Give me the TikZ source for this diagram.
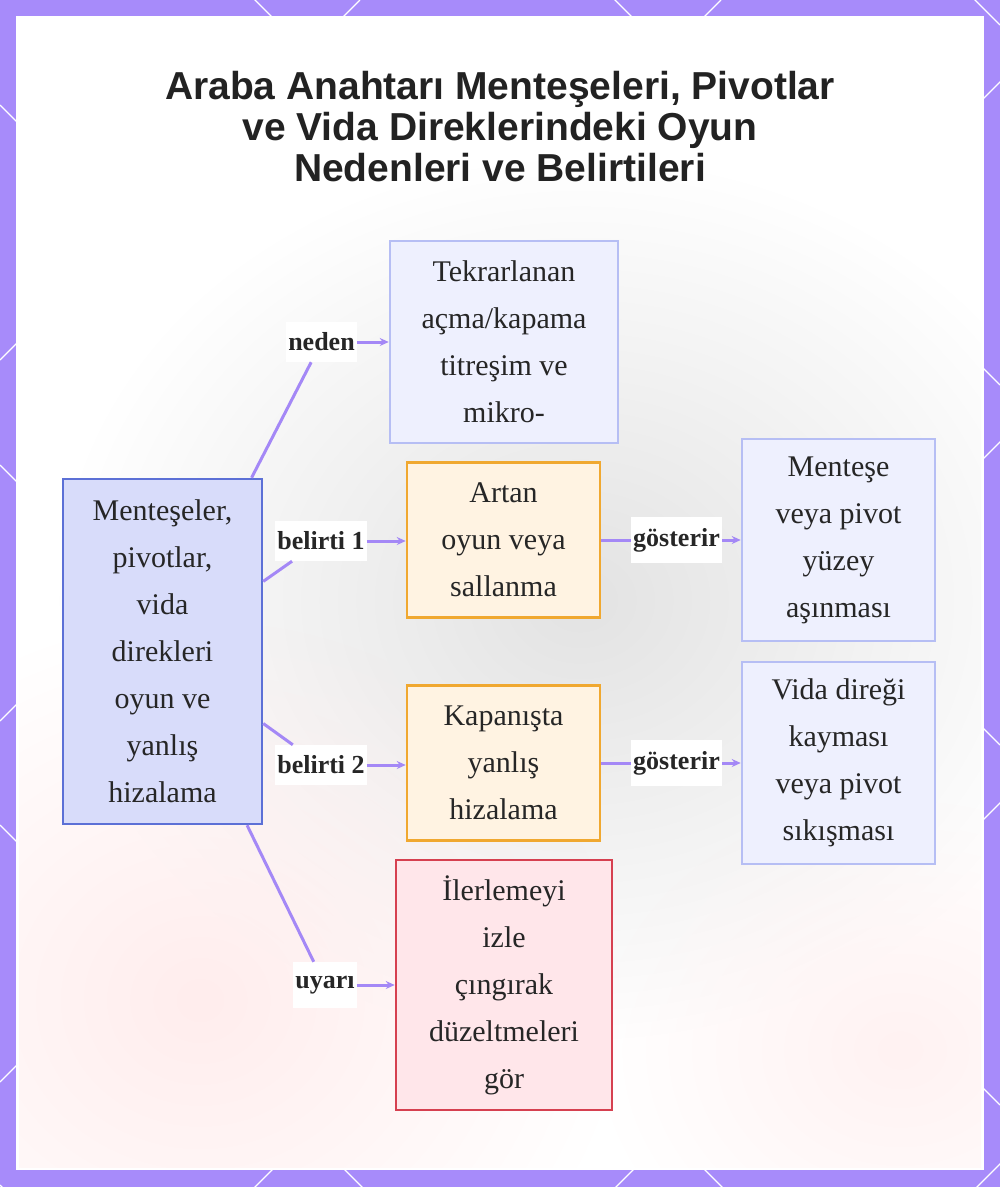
\documentclass[tikz,border=0pt]{standalone}
\usepackage{fontspec}
\setmainfont{Liberation Serif}
\newfontfamily\headfont{Liberation Sans}
\usetikzlibrary{arrows.meta,fadings}

\definecolor{framepurple}{RGB}{167,139,250}
\definecolor{linkpurple}{RGB}{164,136,246}
\definecolor{textgray}{RGB}{38,38,38}
\definecolor{mainfill}{RGB}{216,220,250}
\definecolor{maindraw}{RGB}{92,112,214}
\definecolor{palefill}{RGB}{238,240,254}
\definecolor{paledraw}{RGB}{182,190,244}
\definecolor{orangefill}{RGB}{255,243,226}
\definecolor{orangedraw}{RGB}{240,168,48}
\definecolor{redfill}{RGB}{255,230,234}
\definecolor{reddraw}{RGB}{214,64,80}

\tikzfading[name=softglow, inner color=transparent!0, outer color=transparent!100]

\begin{document}
\begin{tikzpicture}[x=1pt, y=-1pt,
    box/.style={draw, rectangle, align=center, text=textgray, inner sep=0pt,
        line width=2.5pt, font=\fontsize{30}{47}\selectfont},
    lbl/.style={fill=white, inner xsep=2pt, inner ysep=0pt, minimum height=40pt,
        text=textgray, font=\fontsize{26}{30}\selectfont\bfseries},
    link/.style={draw=linkpurple, line width=3pt},
    arr/.style={-{Stealth[length=9pt, width=8pt]}}]

\useasboundingbox (0,0) rectangle (1000,1187);
\fill[framepurple] (0,0) rectangle (1000,1187);
% lattice on the frame
\begin{scope}
    \clip (0,0) rectangle (1000,1187);
    \foreach \c in {-975,-615,-255,105,465,825,1185}
        \draw[white, line width=1.2pt] (0,\c) -- (1000,{\c+1000});
    \foreach \c in {360,721,1082,1442,1803,2164}
        \draw[white, line width=1.2pt] (0,\c) -- (\c,0);
\end{scope}
\fill[white] (16,16) rectangle (984,1170);
\begin{scope}
    \clip (19,19) rectangle (981,1167);
    \fill[black!11, path fading=softglow] (580,600) ellipse [x radius=520, y radius=440];
    \fill[red!7, path fading=softglow] (200,1000) ellipse [x radius=420, y radius=380];
    \fill[red!5, path fading=softglow] (900,1050) ellipse [x radius=300, y radius=250];
\end{scope}

% title
\node[align=center, text={rgb,255:red,34;green,34;blue,34}, font=\headfont\bfseries\fontsize{39}{41}\selectfont] (title) at (500,127)
    {Araba Anahtarı Menteşeleri, Pivotlar\\ve Vida Direklerindeki Oyun\\Nedenleri ve Belirtileri};

% boxes
\node[box, fill=mainfill, draw=maindraw, minimum width=199pt, minimum height=345pt] (m) at (162.5,651.5)
    {Menteşeler,\\pivotlar,\\vida\\direkleri\\oyun ve\\yanlış\\hizalama};
\node[box, fill=palefill, draw=paledraw, minimum width=228pt, minimum height=202pt] (t1) at (504,342)
    {Tekrarlanan\\açma/kapama\\titreşim ve\\mikro-};
\node[box, fill=orangefill, draw=orangedraw, minimum width=193pt, minimum height=155pt] (a1) at (503.5,540)
    {Artan\\oyun veya\\sallanma};
\node[box, fill=palefill, draw=paledraw, minimum width=193pt, minimum height=202pt] (w1) at (838.5,540)
    {Menteşe\\veya pivot\\yüzey\\aşınması};
\node[box, fill=orangefill, draw=orangedraw, minimum width=193pt, minimum height=155pt] (a2) at (503.5,763)
    {Kapanışta\\yanlış\\hizalama};
\node[box, fill=palefill, draw=paledraw, minimum width=193pt, minimum height=202pt] (w2) at (838.5,763)
    {Vida direği\\kayması\\veya pivot\\sıkışması};
\node[box, fill=redfill, draw=reddraw, minimum width=216pt, minimum height=250pt] (u) at (504,985)
    {İlerlemeyi\\izle\\çıngırak\\düzeltmeleri\\gör};

% edge labels
\node[lbl] (lneden) at (321.5,342) {neden};
\node[lbl] (lbel1) at (321,541) {belirti 1};
\node[lbl] (lbel2) at (321,765) {belirti 2};
\node[lbl, minimum height=46pt] (luyari) at (325,985) {uyarı};
\node[lbl, minimum height=46pt] (lgos1) at (676.5,540) {gösterir};
\node[lbl, minimum height=46pt] (lgos2) at (676.5,763) {gösterir};

\path[link] (m) edge (lneden);
\path[link] (lneden) edge[arr] (t1);
\path[link] (m) edge (lbel1);
\path[link] (lbel1) edge[arr] (lbel1 -| a1.west);
\path[link] (m) edge (lbel2);
\path[link] (lbel2) edge[arr] (lbel2 -| a2.west);
\path[link] (m) edge (luyari);
\path[link] (luyari) edge[arr] (u);
\path[link] (a1) edge (lgos1);
\path[link] (lgos1) edge[arr] (w1);
\path[link] (a2) edge (lgos2);
\path[link] (lgos2) edge[arr] (w2);

\end{tikzpicture}
\end{document}
